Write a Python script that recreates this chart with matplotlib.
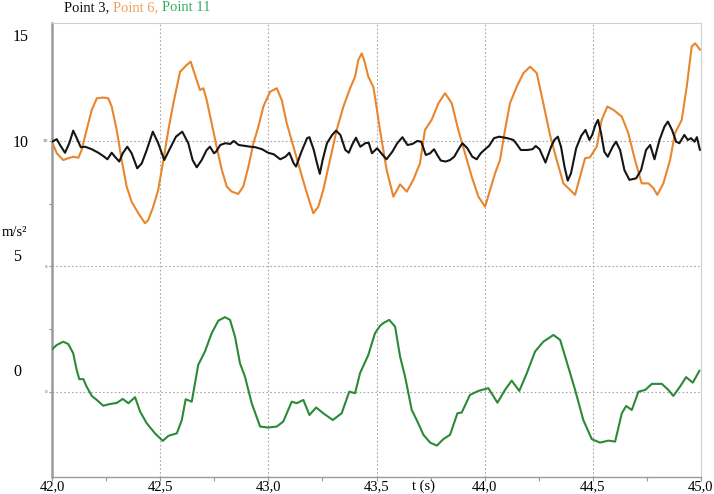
"""
Acceleration traces at three measuring points, 42-45 s window.
Saves out.png (714 x 494 px).
"""

import matplotlib
matplotlib.use("Agg")
import matplotlib.pyplot as plt

# ── Data ─────────────────────────────────────────────────────────────────────
t_p3 = [42.000, 42.022, 42.037, 42.060, 42.080, 42.098, 42.114, 42.133, 42.153, 42.184,
        42.214, 42.237, 42.256, 42.276, 42.291, 42.311, 42.327, 42.348, 42.368, 42.394,
        42.415, 42.438, 42.466, 42.491, 42.519, 42.546, 42.573, 42.602, 42.630, 42.650,
        42.669, 42.692, 42.715, 42.730, 42.749, 42.758, 42.778, 42.801, 42.824, 42.840,
        42.863, 42.894, 42.917, 42.940, 42.971, 42.999, 43.025, 43.055, 43.079, 43.097,
        43.117, 43.128, 43.153, 43.179, 43.190, 43.210, 43.225, 43.238, 43.251, 43.271,
        43.295, 43.313, 43.333, 43.356, 43.372, 43.387, 43.405, 43.425, 43.448, 43.464,
        43.479, 43.503, 43.522, 43.546, 43.573, 43.596, 43.620, 43.643, 43.666, 43.689,
        43.707, 43.728, 43.748, 43.766, 43.781, 43.797, 43.820, 43.840, 43.859, 43.882,
        43.897, 43.920, 43.943, 43.963, 43.982, 44.002, 44.020, 44.043, 44.067, 44.105,
        44.133, 44.151, 44.167, 44.197, 44.221, 44.236, 44.254, 44.281, 44.307, 44.322,
        44.338, 44.353, 44.369, 44.384, 44.399, 44.423, 44.446, 44.466, 44.484, 44.497,
        44.512, 44.524, 44.538, 44.553, 44.569, 44.592, 44.607, 44.626, 44.646, 44.669,
        44.700, 44.723, 44.746, 44.765, 44.785, 44.808, 44.831, 44.847, 44.866, 44.885,
        44.900, 44.923, 44.939, 44.954, 44.970, 44.981, 44.995]
a_p3 = [9.97, 10.07, 9.84, 9.53, 9.91, 10.41, 10.12, 9.75, 9.77, 9.67,
        9.53, 9.40, 9.27, 9.53, 9.37, 9.18, 9.51, 9.77, 9.51, 8.91,
        9.11, 9.64, 10.37, 9.91, 9.24, 9.71, 10.17, 10.37, 9.91, 9.24,
        8.95, 9.24, 9.64, 9.77, 9.51, 9.57, 9.84, 9.91, 9.88, 10.00,
        9.84, 9.80, 9.77, 9.75, 9.67, 9.53, 9.47, 9.27, 9.37, 9.53,
        9.11, 8.98, 9.57, 10.11, 10.15, 9.64, 9.11, 8.69, 9.24, 9.91,
        10.24, 10.41, 10.24, 9.64, 9.53, 9.84, 10.13, 9.77, 9.91, 9.93,
        9.51, 9.71, 9.51, 9.27, 9.57, 9.91, 10.15, 9.84, 9.88, 10.00,
        9.97, 9.44, 9.51, 9.67, 9.44, 9.22, 9.18, 9.24, 9.37, 9.71,
        9.91, 9.71, 9.37, 9.27, 9.51, 9.67, 9.80, 10.11, 10.17, 10.11,
        10.04, 9.84, 9.64, 9.64, 9.67, 9.80, 9.67, 9.14, 9.77, 10.04,
        10.17, 9.77, 8.98, 8.42, 8.71, 9.71, 10.20, 10.44, 10.04, 10.24,
        10.64, 10.84, 10.31, 9.57, 9.37, 9.77, 9.97, 9.64, 8.84, 8.45,
        8.51, 8.84, 9.64, 9.84, 9.27, 10.04, 10.57, 10.77, 10.44, 9.97,
        9.91, 10.24, 10.04, 10.11, 9.97, 10.15, 9.64]

t_p6 = [42.000, 42.022, 42.052, 42.075, 42.098, 42.122, 42.137, 42.160, 42.184, 42.207,
        42.237, 42.260, 42.276, 42.299, 42.322, 42.345, 42.368, 42.399, 42.430, 42.445,
        42.468, 42.491, 42.515, 42.538, 42.561, 42.592, 42.623, 42.641, 42.661, 42.684,
        42.700, 42.715, 42.738, 42.761, 42.785, 42.808, 42.831, 42.861, 42.884, 42.908,
        42.931, 42.954, 42.977, 43.008, 43.039, 43.062, 43.085, 43.116, 43.147, 43.178,
        43.208, 43.231, 43.254, 43.285, 43.316, 43.347, 43.378, 43.401, 43.416, 43.432,
        43.447, 43.462, 43.485, 43.493, 43.516, 43.547, 43.578, 43.609, 43.640, 43.670,
        43.701, 43.724, 43.755, 43.786, 43.817, 43.848, 43.878, 43.909, 43.940, 43.971,
        44.002, 44.025, 44.048, 44.071, 44.094, 44.117, 44.148, 44.179, 44.210, 44.241,
        44.271, 44.302, 44.333, 44.364, 44.395, 44.418, 44.441, 44.464, 44.487, 44.518,
        44.541, 44.567, 44.595, 44.634, 44.664, 44.695, 44.726, 44.757, 44.780, 44.798,
        44.826, 44.857, 44.880, 44.911, 44.934, 44.957, 44.973, 44.996]
a_p6 = [9.97, 9.51, 9.24, 9.31, 9.37, 9.33, 9.64, 10.44, 11.24, 11.70,
        11.73, 11.70, 11.37, 10.44, 9.24, 8.18, 7.58, 7.12, 6.72, 6.85,
        7.38, 8.05, 9.24, 10.44, 11.50, 12.76, 13.03, 13.16, 12.63, 12.03,
        12.10, 11.63, 10.71, 9.77, 8.84, 8.18, 7.98, 7.89, 8.18, 8.98,
        9.91, 10.57, 11.37, 11.96, 12.10, 11.63, 10.71, 9.77, 8.84, 7.92,
        7.12, 7.38, 8.05, 9.24, 10.44, 11.37, 12.10, 12.56, 13.23, 13.49,
        13.10, 12.56, 12.16, 11.76, 10.44, 8.84, 7.78, 8.27, 7.98, 8.45,
        9.11, 10.44, 10.84, 11.50, 11.90, 11.50, 10.44, 9.51, 8.58, 7.78,
        7.38, 8.05, 8.71, 9.24, 10.44, 11.50, 12.16, 12.70, 12.96, 12.70,
        11.50, 10.24, 9.24, 8.31, 8.05, 7.85, 8.58, 9.31, 9.35, 9.77,
        10.84, 11.37, 11.24, 10.97, 10.31, 9.24, 8.31, 8.31, 8.12, 7.85,
        8.31, 9.24, 10.31, 10.84, 12.16, 13.76, 13.89, 13.63]

t_p11 = [42.000, 42.022, 42.052, 42.075, 42.098, 42.114, 42.126, 42.145, 42.160, 42.184,
         42.207, 42.237, 42.268, 42.299, 42.327, 42.353, 42.384, 42.407, 42.438, 42.476,
         42.512, 42.538, 42.577, 42.600, 42.618, 42.646, 42.676, 42.707, 42.738, 42.769,
         42.800, 42.823, 42.846, 42.869, 42.892, 42.923, 42.962, 43.000, 43.039, 43.069,
         43.108, 43.131, 43.162, 43.190, 43.221, 43.254, 43.298, 43.339, 43.374, 43.401,
         43.424, 43.462, 43.493, 43.516, 43.531, 43.559, 43.586, 43.609, 43.632, 43.663,
         43.686, 43.717, 43.748, 43.779, 43.809, 43.840, 43.874, 43.894, 43.932, 43.971,
         44.017, 44.059, 44.094, 44.125, 44.160, 44.195, 44.233, 44.271, 44.318, 44.349,
         44.395, 44.418, 44.456, 44.495, 44.533, 44.572, 44.603, 44.634, 44.654, 44.680,
         44.711, 44.742, 44.773, 44.819, 44.849, 44.872, 44.903, 44.931, 44.962, 44.993]
a_p11 = [1.70, 1.87, 2.00, 1.91, 1.54, 0.88, 0.51, 0.51, 0.21, -0.16,
         -0.32, -0.55, -0.48, -0.44, -0.28, -0.45, -0.21, -0.78, -1.25, -1.65,
         -1.95, -1.75, -1.65, -1.12, -0.29, -0.39, 1.08, 1.61, 2.34, 2.84,
         2.98, 2.87, 2.20, 1.14, 0.61, -0.45, -1.38, -1.42, -1.38, -1.18,
         -0.39, -0.45, -0.32, -0.92, -0.62, -0.85, -1.12, -0.85, 0.01, -0.05,
         0.75, 1.47, 2.34, 2.63, 2.74, 2.87, 2.60, 1.41, 0.61, -0.72,
         -1.12, -1.71, -2.02, -2.14, -1.88, -1.71, -0.85, -0.82, -0.12, 0.04,
         0.15, -0.43, 0.08, 0.45, 0.04, 0.75, 1.61, 2.00, 2.27, 2.07,
         0.75, 0.08, -1.12, -1.88, -2.02, -1.94, -1.98, -0.85, -0.56, -0.72,
         0.01, 0.08, 0.32, 0.32, 0.08, -0.16, 0.21, 0.59, 0.37, 0.85]

x_ticks = [42.0, 42.5, 43.0, 43.5, 44.0, 44.5, 45.0]
x_tick_labels = ["42,0", "42,5", "43,0", "43,5", "44,0", "44,5", "45,0"]
y_big_labels = ["15", "10", "5", "0"]

C_BLACK, C_ORANGE, C_GREEN = "#151515", "#e8862e", "#2b8a36"
GRID, SPINE = "#a8a8a8", "#9a9a9a"
SERIF = "Liberation Serif"

W, H = 714, 494
fig = plt.figure(figsize=(W / 100, H / 100), dpi=100)
fig.patch.set_facecolor("white")
# axes box in pixels: x 52..701, y 23..477 (from top)
ax = fig.add_axes([52 / W, 1 - 477 / H, (701 - 52) / W, (477 - 23) / H])

line_kw = dict(lw=1.5, solid_joinstyle="round", solid_capstyle="round")
ax.plot(t_p6, a_p6, color=C_ORANGE, zorder=3, **line_kw)
ax.plot(t_p3, a_p3, color=C_BLACK, zorder=4, **line_kw)
ax.plot(t_p11, a_p11, color=C_GREEN, zorder=3, **line_kw)

ax.set_xlim(42.0, 45.0)
ax.set_ylim(-3.39, 14.70)

# ── Grid: dotted lines at every labelled value ───────────────────────────────
for xv in x_ticks[1:-1]:
    ax.axvline(xv, color=GRID, lw=0.8, ls=(0, (1.5, 2)), zorder=1)
for yv in (0, 5, 10):
    ax.axhline(yv, color=GRID, lw=0.8, ls=(0, (1.5, 2)), zorder=1)

# ── Ticks ────────────────────────────────────────────────────────────────────
ax.set_xticks(x_ticks)
ax.set_xticklabels(x_tick_labels, family=SERIF, fontsize=10.5)
ax.set_xticks([42.25, 42.75, 43.25, 43.75, 44.25, 44.75], minor=True)
ax.tick_params(axis="x", which="both", direction="out", length=3, width=0.8,
               color=SPINE, pad=-0.5)

ax.set_yticks([0, 5, 10])
ax.set_yticklabels(["0", "5", "10"], fontsize=3.2, color="#555")
ax.set_yticks([2.5, 7.5], minor=True)
ax.tick_params(axis="y", which="both", direction="out", length=2, width=0.6,
               color="#777", pad=1)

for side in ("top", "right"):
    ax.spines[side].set_color("#d0d0d0")
    ax.spines[side].set_linewidth(0.8)
ax.spines["left"].set_color(SPINE)
ax.spines["left"].set_linewidth(1.8)
ax.spines["bottom"].set_color(SPINE)
ax.spines["bottom"].set_linewidth(1.0)

# ── Outer labels (own scale on the left, as in the source screenshot) ───────
for lab, ypx in zip(y_big_labels, (37, 143, 257, 372)):
    fig.text(13 / W, 1 - ypx / H, lab, family=SERIF, fontsize=11.5,
             ha="left", va="center")
fig.text(2 / W, 1 - 232 / H, "m/s²", family=SERIF, fontsize=10.5,
         ha="left", va="center")
fig.text(424 / W, 1 - 486 / H, "t (s)", family=SERIF, fontsize=10.5,
         ha="center", va="center")

# ── Multi-coloured title ─────────────────────────────────────────────────────
t1 = fig.text(64 / W, 1 - 11 / H, "Point 3, ", family=SERIF, fontsize=10.5,
              color="#111", ha="left", va="baseline")
t2 = ax.annotate("Point 6, ", xy=(1, 0), xycoords=t1, family=SERIF, fontsize=10.5,
                 color="#f0a060", va="bottom", annotation_clip=False)
ax.annotate("Point 11", xy=(1, 0), xycoords=t2, family=SERIF, fontsize=10.5,
            color="#35ad5e", va="bottom", annotation_clip=False)

fig.savefig("out.png", dpi=100, facecolor="white")
